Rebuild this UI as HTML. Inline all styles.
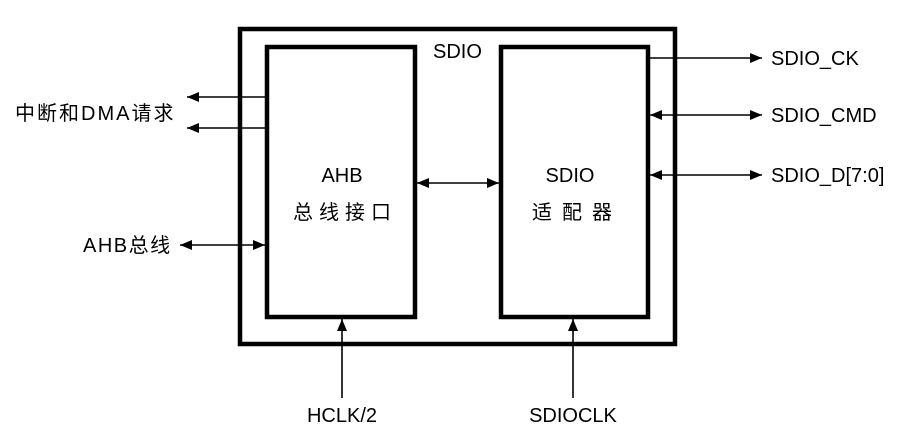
<!DOCTYPE html>
<html><head><meta charset="utf-8"><style>
html,body{margin:0;padding:0;background:#fff;width:904px;height:432px;overflow:hidden}
text{font-family:"Liberation Sans","Noto Sans CJK SC",sans-serif;font-size:20px;fill:#000}
</style></head><body>
<svg width="904" height="432" viewBox="0 0 904 432" xmlns="http://www.w3.org/2000/svg">
<defs>
<marker id="a" markerWidth="12" markerHeight="10" refX="12" refY="5" orient="auto" markerUnits="userSpaceOnUse">
<path d="M0,0 L12,5 L0,10 z" fill="#000"/></marker>
<marker id="s" markerWidth="12" markerHeight="10" refX="0" refY="5" orient="auto" markerUnits="userSpaceOnUse">
<path d="M12,0 L0,5 L12,10 z" fill="#000"/></marker>
</defs>
<rect x="240" y="29" width="435" height="315" fill="none" stroke="#000" stroke-width="4.5"/>
<rect x="267" y="47" width="148" height="270" fill="none" stroke="#000" stroke-width="4.5"/>
<rect x="501" y="47" width="147" height="270" fill="none" stroke="#000" stroke-width="4.5"/>
<g stroke="#000" stroke-width="1.6" fill="none">
<line x1="265" y1="97" x2="187" y2="97" marker-end="url(#a)"/>
<line x1="265" y1="128" x2="187" y2="128" marker-end="url(#a)"/>
<line x1="180" y1="245" x2="265" y2="245" marker-start="url(#s)" marker-end="url(#a)"/>
<line x1="417" y1="183" x2="499" y2="183" marker-start="url(#s)" marker-end="url(#a)"/>
<line x1="650" y1="58" x2="762" y2="58" marker-end="url(#a)"/>
<line x1="650" y1="115" x2="762" y2="115" marker-start="url(#s)" marker-end="url(#a)"/>
<line x1="650" y1="175" x2="762" y2="175" marker-start="url(#s)" marker-end="url(#a)"/>
<line x1="342" y1="398" x2="342" y2="319" marker-end="url(#a)"/>
<line x1="573" y1="398" x2="573" y2="319" marker-end="url(#a)"/>
</g>
<text x="433" y="58">SDIO</text>
<text x="342" y="182" text-anchor="middle">AHB</text>
<text x="345" y="219" text-anchor="middle" letter-spacing="6">总线接口</text>
<text x="570" y="182" text-anchor="middle">SDIO</text>
<text x="577" y="219" text-anchor="middle" letter-spacing="10">适配器</text>
<text x="15" y="120" letter-spacing="2">中断和DMA请求</text>
<text x="83" y="252" letter-spacing="1.5">AHB总线</text>
<text x="771" y="65">SDIO_CK</text>
<text x="771" y="122">SDIO_CMD</text>
<text x="771" y="182">SDIO_D[7:0]</text>
<text x="342" y="422" text-anchor="middle">HCLK/2</text>
<text x="573" y="422" text-anchor="middle">SDIOCLK</text>
</svg>
</body></html>
